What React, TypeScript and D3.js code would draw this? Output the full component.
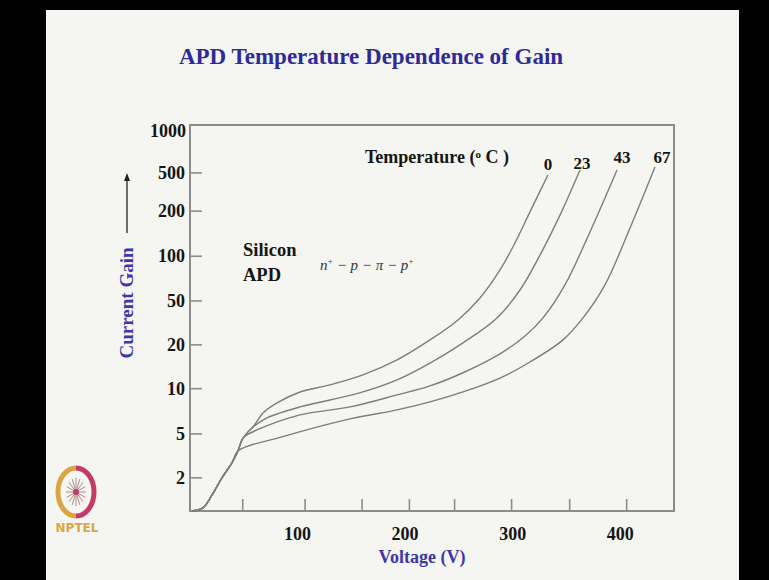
import React from 'react';
import * as d3 from 'd3';

// tick marks as they sit on the drawing (hand drawn, slightly irregular)
const xTickMarks = [49, 107, 160, 204, 246, 299, 353, 406];
const xTickLabels = [100, 200, 300, 400];
const yTickLabels = ['2', '5', '10', '20', '50', '100', '200', '500'];
const yTickMarks = [2.22, 4.75, 10.4, 22.2, 47.5, 103, 225, 436];

const temperatures = ['0', '23', '43', '67'];

// voltage (V) / gain
const curve0V = [2, 12.1, 20.5, 29.7, 39, 44.6, 48.3, 53.9, 58.6, 63.2, 67.9, 80.9, 102.3, 130.2, 160.8, 192.5, 223.1, 249.2, 269.6, 288.2, 302.2, 316.1, 332.8];
const curve0G = [1.25, 1.32, 1.65, 2.22, 2.88, 3.54, 4.28, 4.92, 5.36, 6.05, 6.83, 8.13, 9.82, 11.1, 13.2, 17.1, 24.2, 34.2, 50.0, 81.2, 130, 222, 421];

const curve23V = [2, 12.1, 20.5, 29.7, 39, 44.6, 48.3, 53.9, 58.6, 71.6, 102.3, 130.2, 160.8, 192.5, 223.1, 253.8, 285.4, 306.8, 325.4, 344, 362.6];
const curve23G = [1.25, 1.32, 1.65, 2.22, 2.88, 3.54, 4.28, 4.92, 5.36, 6.27, 7.58, 8.55, 9.83, 12.1, 16.2, 23.0, 35.4, 57.4, 105, 210, 459];

const curve43V = [2, 12.1, 20.5, 29.7, 39, 44.6, 48.3, 50.2, 62.3, 102.3, 148.8, 192.5, 223.1, 253.8, 288.2, 311.5, 328.2, 348.6, 371.9, 397];
const curve43G = [1.25, 1.32, 1.65, 2.22, 2.88, 3.54, 4.28, 4.51, 5.09, 6.6, 7.58, 9.33, 10.9, 13.7, 19.0, 25.9, 35.4, 62.7, 157, 459];

const curve67V = [2, 12.1, 20.5, 29.7, 39, 44.6, 85.5, 148.8, 192.5, 223.1, 253.8, 288.2, 316.1, 346.8, 365.4, 385.8, 409.1, 432.3];
const curve67G = [1.25, 1.32, 1.65, 2.22, 2.88, 3.54, 4.51, 6.16, 7.2, 8.27, 9.83, 12.5, 16.5, 24.2, 35.4, 62.7, 168, 483];

const curves = [
  { v: curve0V, g: curve0G },
  { v: curve23V, g: curve23G },
  { v: curve43V, g: curve43G },
  { v: curve67V, g: curve67G },
];

const W = 769;
const H = 580;
const left = 190, right = 674, top = 125, bottom = 511;

const serif = '"Liberation Serif", "Times New Roman", serif';
const blue = '#3d37ab';
const axisGray = '#8c8c8c';

export default function App() {
  const x = d3.scaleLinear().domain([0, 450]).range([left, right]);
  const y = d3.scaleLog().domain([1.25, 1000]).range([bottom, top]);

  const line = d3
    .line<[number, number]>()
    .x(d => x(d[0]))
    .y(d => y(d[1]))
    .curve(d3.curveCatmullRom.alpha(0.5));

  // temperature labels placed just above each curve's end
  const labelPos = [
    { x: 548, y: 170 },
    { x: 582, y: 169 },
    { x: 622, y: 163 },
    { x: 662, y: 163 },
  ];

  return (
    <svg width={W} height={H} style={{ position: 'absolute', left: 0, top: 0 }}>
      <rect x={0} y={0} width={W} height={H} fill="#000" />
      <rect x={46} y={10} width={693} height={570} fill="#f5f6f1" />

      {/* title */}
      <text x={371} y={64} textAnchor="middle" fontFamily={serif} fontWeight="bold" fontSize={23} fill="#2f2a9c">
        APD Temperature Dependence of Gain
      </text>

      {/* frame */}
      <rect x={left} y={top} width={right - left} height={bottom - top} fill="none" stroke={axisGray} strokeWidth={2} />

      {/* y ticks */}
      {yTickMarks.map((v, i) => (
        <g key={'y' + i}>
          <line x1={left} x2={left + 12} y1={y(v)} y2={y(v)} stroke={axisGray} strokeWidth={1.6} />
          <text x={left - 5} y={y(v) + 6} textAnchor="end" fontFamily={serif} fontWeight="bold" fontSize={18} fill="#151515">
            {yTickLabels[i]}
          </text>
        </g>
      ))}
      <text x={left - 4} y={top + 12} textAnchor="end" fontFamily={serif} fontWeight="bold" fontSize={18} fill="#151515">
        1000
      </text>

      {/* x ticks */}
      {xTickMarks.map((v, i) => (
        <line key={'x' + i} x1={x(v)} x2={x(v)} y1={bottom} y2={bottom - 12} stroke={axisGray} strokeWidth={1.6} />
      ))}
      {xTickLabels.map(v => (
        <text key={'xl' + v} x={x(v)} y={540} textAnchor="middle" fontFamily={serif} fontWeight="bold" fontSize={18} fill="#151515">
          {v}
        </text>
      ))}

      {/* axis titles */}
      <text x={422} y={563} textAnchor="middle" fontFamily={serif} fontWeight="bold" fontSize={18} fill={blue}>
        Voltage (V)
      </text>
      <text
        transform="translate(133,303) rotate(-90)"
        textAnchor="middle"
        fontFamily={serif}
        fontWeight="bold"
        fontSize={19}
        fill={blue}
      >
        Current Gain
      </text>
      <line x1={127} x2={127} y1={233} y2={180} stroke="#222" strokeWidth={1.3} />
      <path d="M124,181 L127,173 L130,181 Z" fill="#222" />

      {/* curves */}
      {curves.map((c, i) => (
        <path
          key={'c' + i}
          d={line(c.v.map((v, j) => [v, c.g[j]] as [number, number])) || ''}
          fill="none"
          stroke="#7d7d7d"
          strokeWidth={1.4}
        />
      ))}

      {/* annotations */}
      <text x={365} y={163} fontFamily={serif} fontWeight="bold" fontSize={18} fill="#151515">
        Temperature (<tspan fontSize={11} dy={-5}>o</tspan>
        <tspan dy={5}> C )</tspan>
      </text>
      {temperatures.map((t, i) => (
        <text key={'t' + t} x={labelPos[i].x} y={labelPos[i].y} textAnchor="middle" fontFamily={serif} fontWeight="bold" fontSize={17} fill="#151515">
          {t}
        </text>
      ))}
      <text x={243} y={256} fontFamily={serif} fontWeight="bold" fontSize={18.5} fill="#151515">
        Silicon
      </text>
      <text x={243} y={281} fontFamily={serif} fontWeight="bold" fontSize={18.5} fill="#151515">
        APD
      </text>
      <text x={320} y={270} fontFamily={serif} fontStyle="italic" fontSize={15} fill="#333">
        n<tspan fontSize={8} dy={-6}>+</tspan>
        <tspan dy={6}> − p − π − p</tspan>
        <tspan fontSize={8} dy={-6}>+</tspan>
      </text>

      {/* NPTEL logo */}
      <g>
        <path d="M76,468 A18,24 0 0 0 76,516" fill="none" stroke="#d9a545" strokeWidth={5} />
        <path d="M76,468 A18,24 0 0 1 76,516" fill="none" stroke="#c63a68" strokeWidth={5} />
        {d3.range(8).map(k => {
          const a = (k * Math.PI) / 8;
          return (
            <line
              key={'s' + k}
              x1={76 - 10 * Math.cos(a)}
              y1={492 - 14 * Math.sin(a)}
              x2={76 + 10 * Math.cos(a)}
              y2={492 + 14 * Math.sin(a)}
              stroke="#b08a8a"
              strokeWidth={1}
            />
          );
        })}
        <circle cx={76} cy={492} r={3} fill="#c63a68" />
        <text x={77} y={532} textAnchor="middle" fontFamily='"DejaVu Sans", sans-serif' fontWeight="bold" fontSize={12} fill="#d9a545">
          NPTEL
        </text>
      </g>
    </svg>
  );
}
